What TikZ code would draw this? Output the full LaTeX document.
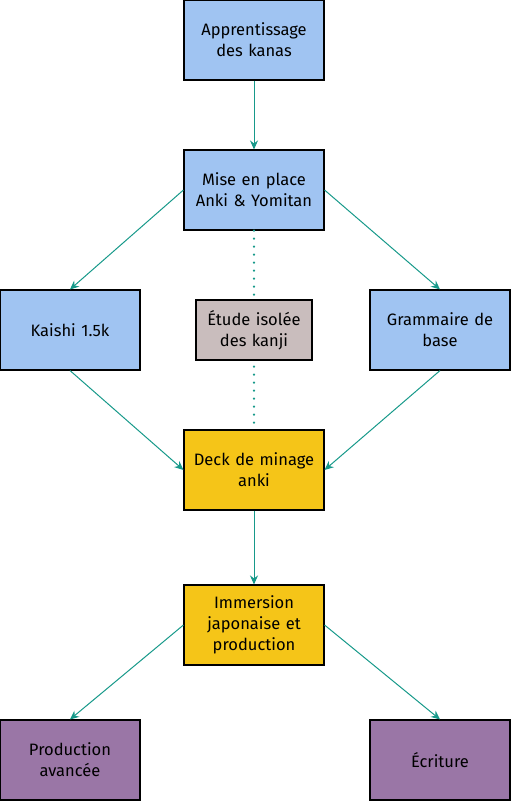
\documentclass[tikz,border=0pt]{standalone}
\usepackage{fontspec}
\setmainfont{Fira Sans}
\usetikzlibrary{arrows.meta}
\definecolor{cblue}{HTML}{A0C4F2}
\definecolor{cgrey}{HTML}{C9BDBD}
\definecolor{cgold}{HTML}{F5C518}
\definecolor{cpurple}{HTML}{9A76A6}
\definecolor{cedge}{HTML}{17998A}
\tikzset{
  box/.style={draw=black, line width=1.1pt, minimum width=140pt, minimum height=80pt,
    inner sep=0pt, align=center, text width=130pt, font=\fontsize{16.5}{21}\selectfont, text=black},
  smallbox/.style={box, minimum width=116pt, minimum height=60pt, text width=112pt},
  conn/.style={draw=cedge, line width=1pt, -{Stealth[length=9pt,width=8pt]}},
  dotconn/.style={draw=cedge, line width=2.4pt, line cap=round, dash pattern=on 0pt off 8pt},
}
\begin{document}
\begin{tikzpicture}[x=1pt,y=-1pt]
\useasboundingbox (0,0) rectangle (511,801);
\node[box, fill=cblue] (kana) at (254,40) {Apprentissage\\des kanas};
\node[box, fill=cblue] (mise) at (254,190) {Mise en place\\Anki \& Yomitan};
\node[box, fill=cblue] (kaishi) at (70,330) {Kaishi 1.5k};
\node[box, fill=cblue] (gram) at (440,330) {Grammaire de\\base};
\node[box, fill=cgold] (deck) at (254,470) {Deck de minage\\anki};
\node[box, fill=cgold] (imm) at (254,625) {Immersion\\japonaise et\\production};
\node[box, fill=cpurple] (prod) at (70,760) {Production\\avancée};
\node[box, fill=cpurple] (ecr) at (440,760) {Écriture};
\draw[dotconn] (mise.south) -- (deck.north);
\node[smallbox, fill=cgrey] (etude) at (254,330) {Étude isolée\\des kanji};
\draw[conn] (kana) -- (mise);
\draw[conn] (mise.west) -- (kaishi.north);
\draw[conn] (mise.east) -- (gram.north);
\draw[conn] (kaishi.south) -- (deck.west);
\draw[conn] (gram.south) -- (deck.east);
\draw[conn] (deck) -- (imm);
\draw[conn] (imm.west) -- (prod.north);
\draw[conn] (imm.east) -- (ecr.north);
\end{tikzpicture}
\end{document}
